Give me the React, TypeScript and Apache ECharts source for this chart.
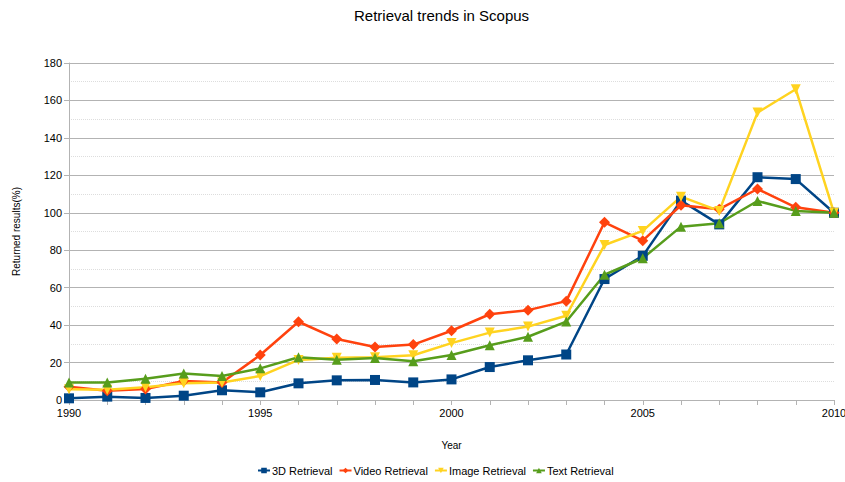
import React, { useEffect, useRef } from "react";
import * as echarts from "echarts";

const years = ["1990","1991","1992","1993","1994","1995","1996","1997","1998","1999","2000","2001","2002","2003","2004","2005","2006","2007","2008","2009","2010"];
const retrieval3D = [0.9, 1.8, 1.1, 2.3, 5.2, 4.1, 8.9, 10.5, 10.7, 9.4, 11, 17.6, 21.2, 24.3, 64.6, 77, 106.5, 93.8, 119, 118, 100];
const videoRetrieval = [7.1, 5, 5.9, 10.1, 9.4, 24, 41.8, 32.6, 28.3, 29.6, 37, 45.8, 48, 52.8, 94.9, 85.1, 104, 101.9, 112.7, 102.9, 100];
const imageRetrieval = [5.7, 5.5, 6.8, 8.9, 9.3, 12.8, 21.4, 22.6, 22.8, 23.9, 30.4, 36, 39.2, 45, 82.8, 90.3, 108.6, 101, 153.5, 166, 100];
const textRetrieval = [9.3, 9.4, 11.4, 14.1, 12.8, 16.9, 22.8, 21.5, 22.4, 20.7, 24, 29.2, 33.8, 41.9, 66.9, 75.7, 92.6, 94.4, 106.3, 101, 100];

const FONT = "Liberation Sans";

export default function App() {
  const ref = useRef<HTMLDivElement>(null);
  useEffect(() => {
    if (!ref.current) return;
    const chart = echarts.init(ref.current, undefined, { renderer: "svg" });
    const mk = (name: string, data: number[], color: string, symbol: string, size: number, rotate = 0) => ({
      name,
      type: "line",
      data,
      symbol,
      symbolSize: size,
      symbolRotate: rotate,
      showAllSymbol: true,
      lineStyle: { color, width: 2.5 },
      itemStyle: { color },
    });
    chart.setOption({
      animation: false,
      textStyle: { fontFamily: FONT },
      title: {
        text: "Retrieval trends in Scopus",
        left: 349,
        top: 3,
        textStyle: { fontFamily: FONT, fontSize: 15, fontWeight: "normal", color: "#000" },
      },
      legend: {
        top: 460,
        left: 252,
        itemWidth: 12,
        itemHeight: 7,
        itemGap: 6,
        textStyle: { fontFamily: FONT, fontSize: 11, color: "#000", padding: [0, 0, 0, -3] },
        data: ["3D Retrieval", "Video Retrieval", "Image Retrieval", "Text Retrieval"],
      },
      grid: { left: 69, right: 11, top: 63, bottom: 82, containLabel: false, outerBoundsMode: "none" },
      xAxis: {
        type: "category",
        data: years,
        boundaryGap: false,
        name: "Year",
        nameLocation: "middle",
        nameGap: 40,
        nameTextStyle: { fontFamily: FONT, fontSize: 10, color: "#000" },
        axisLine: { lineStyle: { color: "#b3b3b3", width: 1 } },
        axisTick: { show: true, interval: 0, length: 5, lineStyle: { color: "#b3b3b3" } },
        axisLabel: { interval: 4, fontFamily: FONT, fontSize: 11, color: "#000", margin: 7, hideOverlap: false },
        splitLine: { show: false },
      },
      yAxis: {
        type: "value",
        min: 0,
        max: 180,
        interval: 20,
        name: "Returned results(%)",
        nameLocation: "middle",
        nameRotate: 90,
        nameGap: 48,
        nameTextStyle: { fontFamily: FONT, fontSize: 10, color: "#000" },
        axisLine: { show: true, lineStyle: { color: "#b3b3b3", width: 1 } },
        axisTick: { show: true, length: 5, lineStyle: { color: "#b3b3b3" } },
        axisLabel: { fontFamily: FONT, fontSize: 11, color: "#000", margin: 7 },
        splitLine: { show: true, lineStyle: { color: "#b3b3b3", width: 1 } },
        minorTick: { show: false, splitNumber: 2 },
        minorSplitLine: { show: true, lineStyle: { color: "#dddddd", type: "dotted", width: 1 } },
      },
      series: [
        mk("3D Retrieval", retrieval3D, "#004586", "rect", 10),
        mk("Video Retrieval", videoRetrieval, "#ff420e", "diamond", 11),
        mk("Image Retrieval", imageRetrieval, "#ffd320", "triangle", 10, 180),
        mk("Text Retrieval", textRetrieval, "#579d1c", "triangle", 10),
      ],
    });
    return () => chart.dispose();
  }, []);
  return <div ref={ref} style={{ width: 845, height: 482, position: "absolute", left: 0, top: 0 }} />;
}
